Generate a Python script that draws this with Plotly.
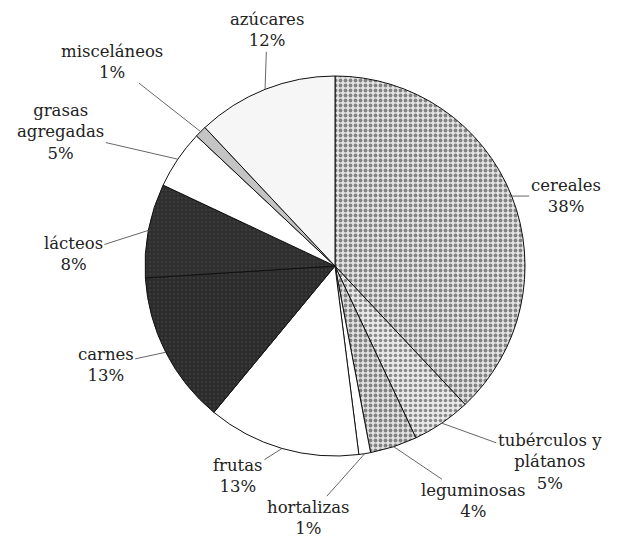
import math
import plotly.graph_objects as go

# ---- data ----
labels = ["cereales", "tubérculos y<br>plátanos", "leguminosas", "hortalizas", "frutas",
          "carnes", "lácteos", "grasas<br>agregadas", "misceláneos", "azúcares"]
values = [38, 5, 4, 1, 13, 13, 8, 5, 1, 12]

# ---- styling ----
fill_colors = ["#e4e4e4", "#e8e8e8", "#e2e2e2", "#ffffff", "#ffffff",
               "#2b2b2b", "#2e2e2e", "#ffffff", "#c4c4c4", "#f6f6f6"]
pattern_shapes = [".", ".", ".", "", "", ".", ".", "", "", ""]
pattern_fg = ["#222222", "#2a2a2a", "#222222", "#000", "#000",
              "#484848", "#484848", "#000", "#000", "#000"]
pattern_size = [5, 5, 5, 6, 6, 4, 4, 6, 6, 6]
pattern_solid = [0.45, 0.4, 0.45, 0.2, 0.2, 0.3, 0.3, 0.2, 0.2, 0.2]

# label offsets (pixels) from the rim point to the label centre
label_offsets = [(54, 0), (108, 39), (80, 54), (-57, 64), (-44, 28),
                 (-60, 13), (-75, 24), (-117, -27), (-89, -70), (2, -59)]

W, H = 628, 540
CX, CY, R = 327, 258, 190   # figure pixels (page has an 8px body margin)
FONT = "DejaVu Serif, serif"

fig = go.Figure(go.Pie(
    labels=labels,
    values=values,
    sort=False,
    direction="clockwise",
    rotation=0,
    textinfo="none",
    hoverinfo="label+percent",
    marker=dict(
        colors=fill_colors,
        line=dict(color="#111111", width=1),
        pattern=dict(shape=pattern_shapes, fgcolor=pattern_fg, size=pattern_size,
                     solidity=pattern_solid, fillmode="overlay"),
    ),
    domain=dict(x=[(CX - R) / W, (CX + R) / W], y=[1 - (CY + R) / H, 1 - (CY - R) / H]),
    showlegend=False,
))

total = sum(values)
cum = 0
annotations = []
for lab, v, (dx, dy) in zip(labels, values, label_offsets):
    mid = (cum + v / 2) / total
    cum += v
    th = 2 * math.pi * mid
    px = CX + R * math.sin(th)
    py = CY - R * math.cos(th)
    annotations.append(dict(
        x=px / W, y=1 - py / H, xref="paper", yref="paper",
        text=f"{lab}<br>{round(100 * v / total)}%",
        showarrow=True, arrowhead=0, arrowwidth=0.9, arrowcolor="#555555",
        ax=dx, ay=dy, axref="pixel", ayref="pixel",
        font=dict(family=FONT, size=16.5, color="#222222"),
        align="center",
    ))

fig.update_layout(
    width=W, height=H,
    margin=dict(l=0, r=0, t=0, b=0),
    paper_bgcolor="white", plot_bgcolor="white",
    font=dict(family=FONT),
    annotations=annotations,
)

fig.write_html("out.html")
